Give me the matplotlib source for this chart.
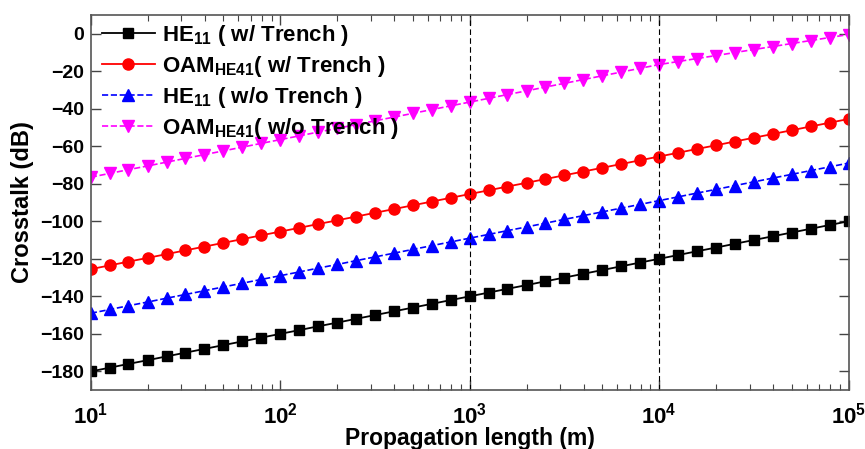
import math
import matplotlib
matplotlib.use('Agg')
import matplotlib.pyplot as plt
from matplotlib.ticker import FixedLocator, LogLocator, FuncFormatter, NullFormatter

plt.rcParams['font.family'] = ['Liberation Sans', 'DejaVu Sans']
plt.rcParams['mathtext.fontset'] = 'custom'
plt.rcParams['mathtext.rm'] = 'Liberation Sans'
plt.rcParams['mathtext.bf'] = 'Liberation Sans:bold'

# propagation length (m), 10 points per decade
length_m = [10, 12.6, 15.8, 20, 25.1, 31.6, 39.8, 50.1, 63.1, 79.4,
            100, 126, 158, 200, 251, 316, 398, 501, 631, 794,
            1000, 1260, 1580, 2000, 2510, 3160, 3980, 5010, 6310, 7940,
            10000, 12600, 15800, 20000, 25100, 31600, 39800, 50100, 63100, 79400,
            100000]

# crosstalk (dB)
he11_trench = [-180, -178, -176, -174, -172, -170, -168, -166, -164, -162,
               -160, -158, -156, -154, -152, -150, -148, -146, -144, -142,
               -140, -138, -136, -134, -132, -130, -128, -126, -124, -122,
               -120, -118, -116, -114, -112, -110, -108, -106, -104, -102,
               -100]
oam_trench = [-125.5, -123.5, -121.5, -119.5, -117.5, -115.5, -113.5, -111.5, -109.5, -107.5,
              -105.5, -103.5, -101.5, -99.5, -97.5, -95.5, -93.5, -91.5, -89.5, -87.5,
              -85.5, -83.5, -81.5, -79.5, -77.5, -75.5, -73.5, -71.5, -69.5, -67.5,
              -65.5, -63.5, -61.5, -59.5, -57.5, -55.5, -53.5, -51.5, -49.5, -47.5,
              -45.5]
he11_no_trench = [-149, -147, -145, -143, -141, -139, -137, -135, -133, -131,
                  -129, -127, -125, -123, -121, -119, -117, -115, -113, -111,
                  -109, -107, -105, -103, -101, -99, -97, -95, -93, -91,
                  -89, -87, -85, -83, -81, -79, -77, -75, -73, -71,
                  -69]
oam_no_trench = [-76.5, -74.5, -72.5, -70.5, -68.5, -66.5, -64.5, -62.5, -60.5, -58.5,
                 -56.5, -54.5, -52.5, -50.5, -48.5, -46.5, -44.5, -42.5, -40.5, -38.5,
                 -36.5, -34.5, -32.5, -30.5, -28.5, -26.5, -24.5, -22.5, -20.5, -18.5,
                 -16.5, -14.9, -13.3, -11.7, -10.1, -8.5, -6.9, -5.3, -3.7, -2.1,
                 -0.5]

labels = [r'HE$_{\mathregular{11}}$ ( w/ Trench )',
          r'OAM$_{\mathregular{HE41}}$( w/ Trench )',
          r'HE$_{\mathregular{11}}$ ( w/o Trench )',
          r'OAM$_{\mathregular{HE41}}$( w/o Trench )']
marked_lengths = [1000, 10000]
y_ticks = [0, -20, -40, -60, -80, -100, -120, -140, -160, -180]

fig = plt.figure(figsize=(8.65, 4.49), dpi=100)
ax = fig.add_axes([0.105, 0.131, 0.876, 0.836])

ax.plot(length_m, he11_trench, '-', color='black', marker='s', ms=7.5, lw=1.3, label=labels[0])
ax.plot(length_m, oam_trench, '-', color='#ff0000', marker='o', ms=8, lw=1.3, label=labels[1])
ax.plot(length_m, he11_no_trench, '--', color='#0000ff', marker='^', ms=9, lw=1.2, label=labels[2])
ax.plot(length_m, oam_no_trench, '--', color='#ff00ff', marker='v', ms=9, lw=1.2, label=labels[3])

for xv in marked_lengths:
    ax.axvline(xv, color='black', ls=(0, (5, 3)), lw=0.8)

ax.set_xscale('log')
ax.set_xlim(10, 1e5)
ax.set_ylim(-190, 10)
ax.yaxis.set_major_locator(FixedLocator(y_ticks))
ax.xaxis.set_major_locator(LogLocator(base=10))
ax.xaxis.set_minor_locator(LogLocator(base=10, subs=range(2, 10)))
ax.xaxis.set_minor_formatter(NullFormatter())
ax.xaxis.set_major_formatter(FuncFormatter(lambda v, p: r'$\mathbf{10^{%d}}$' % round(math.log10(v))))

ax.tick_params(which='both', direction='in', top=True, right=True, colors='#444444',
               labelcolor='black')
ax.tick_params(which='major', length=7, width=1)
ax.tick_params(which='minor', length=4, width=0.8)
ax.tick_params(axis='y', labelsize=14, pad=5)
ax.tick_params(axis='x', labelsize=16, pad=9)
for lab in ax.get_yticklabels():
    lab.set_fontweight('bold')
for sp in ax.spines.values():
    sp.set_color('#555555')
    sp.set_linewidth(1.2)

ax.set_xlabel('Propagation length (m)', fontsize=16.5, fontweight='bold', labelpad=-1)
ax.set_ylabel('Crosstalk (dB)', fontsize=17, fontweight='bold', labelpad=4)

ax.legend(loc='upper left', bbox_to_anchor=(0.004, 1.0), frameon=False,
          prop={'size': 16, 'weight': 'bold'}, handlelength=2.4, handletextpad=0.3,
          labelspacing=0.27, borderpad=0.15, borderaxespad=0.2)

fig.savefig('out.png', dpi=100)
